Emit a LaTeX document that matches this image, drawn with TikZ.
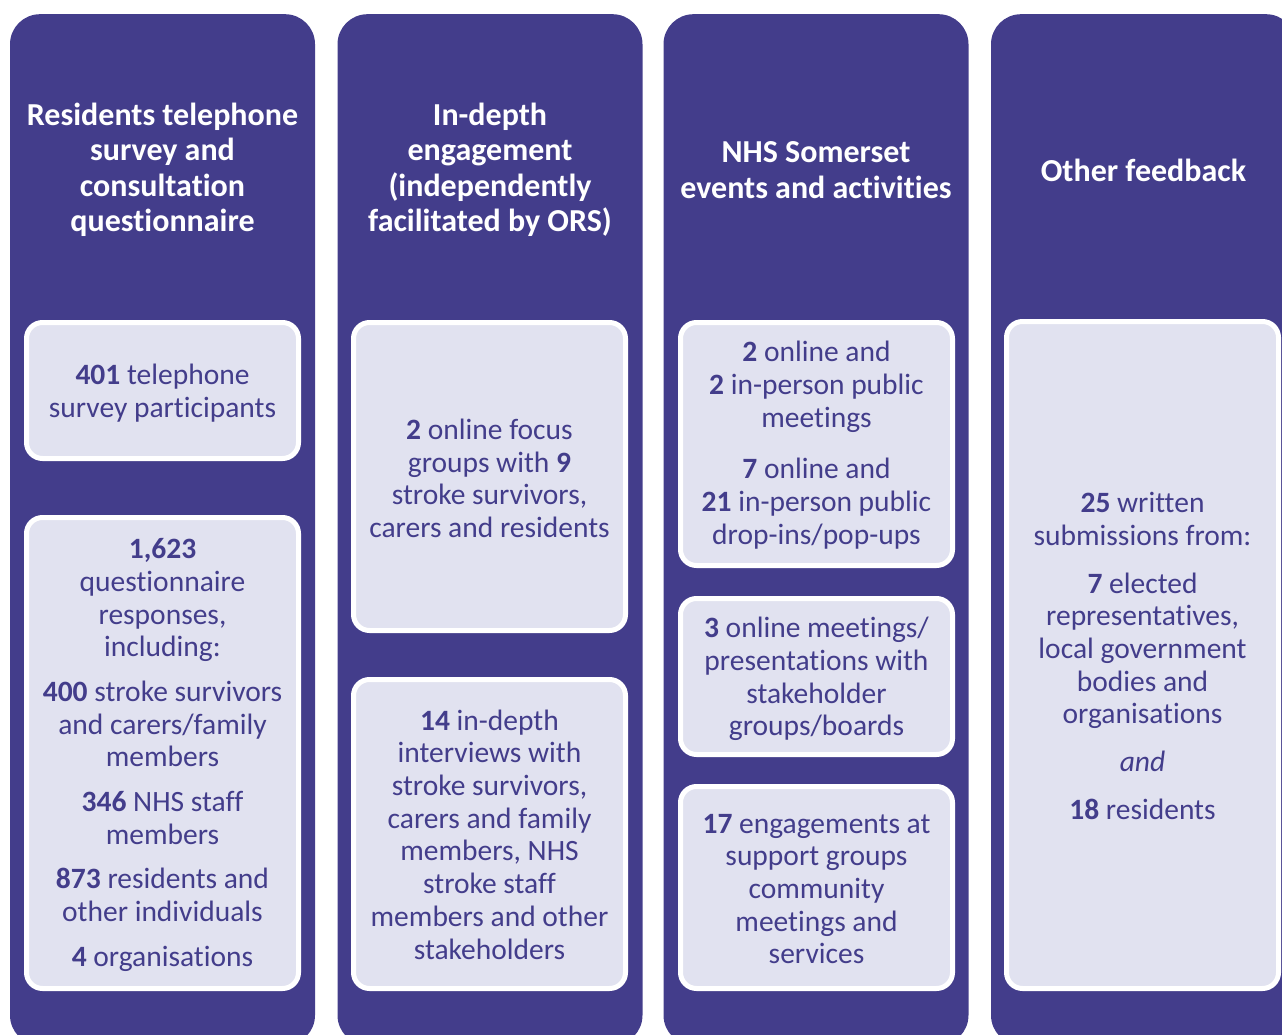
\documentclass[tikz,border=0pt]{standalone}
\usepackage{fontspec}
\setmainfont{Carlito}[Ligatures={NoCommon}]
\definecolor{pp}{HTML}{433D8B}
\definecolor{lav}{HTML}{E1E2F0}
\begin{document}
\begin{tikzpicture}[x=1pt,y=-1pt,
 col/.style={fill=pp, draw=none, rounded corners=30pt, minimum width=305pt, minimum height=1031pt, anchor=north, inner sep=0pt},
 hdr/.style={text=white, font=\fontsize{32}{35.5}\selectfont\bfseries, align=center, inner sep=0pt},
 box/.style={fill=lav, draw=white, line width=5pt, rounded corners=16pt, inner sep=0pt, minimum width=272pt},
 btxt/.style={text=pp, font=\fontsize{29.5}{32.7}\selectfont, align=center, inner sep=0pt},
]
\useasboundingbox (0,0) rectangle (1282,1035);
% columns
\node[col] (col1) at (162.5,14) {};
\node[col] (col2) at (490,14) {};
\node[col] (col3) at (816,14) {};
\node[col] (col4) at (1143.5,14) {};
% headers
\node[hdr] (h1) at (162.5,170) {Residents telephone\\survey and\\consultation\\questionnaire};
\node[hdr] (h2) at (490,170) {In-depth\\engagement\\(independently\\facilitated by ORS)};
\node[hdr] (h3) at (816,170) {NHS Somerset\\events and activities};
\node[hdr] (h4) at (1143.5,170) {Other feedback};
% boxes
\node[box, minimum height=136pt] (c1a) at (162.5,390.5) {};
\node[box, minimum height=471pt] (c1b) at (162.5,753) {};
\node[box, minimum height=308pt] (c2a) at (489.5,476.5) {};
\node[box, minimum height=309pt] (c2b) at (489.5,834) {};
\node[box, minimum height=243pt] (c3a) at (816.5,444) {};
\node[box, minimum height=156pt] (c3b) at (816.5,676.5) {};
\node[box, minimum height=202pt] (c3c) at (816.5,887.5) {};
\node[box, minimum height=667pt] (c4) at (1142.5,655) {};
% box texts
\node[btxt] (t1a) at ([yshift=-2.5pt]c1a.center) {\textbf{401} telephone\\survey participants};
\node[btxt] (t1b) at ([yshift=-2pt]c1b.center) {\textbf{1,623}\\questionnaire\\responses,\\including:\\[12pt]\textbf{400} stroke survivors\\and carers/family\\members\\[12pt]\textbf{346} NHS staff\\members\\[12pt]\textbf{873} residents and\\other individuals\\[12pt]\textbf{4} organisations};
\node[btxt] (t2a) at ([yshift=-2pt]c2a.center) {\textbf{2} online focus\\groups with \textbf{9}\\stroke survivors,\\carers and residents};
\node[btxt] (t2b) at ([yshift=-0.5pt]c2b.center) {\textbf{14} in-depth\\interviews with\\stroke survivors,\\carers and family\\members, NHS\\stroke staff\\members and other\\stakeholders};
\node[btxt] (t3a) at ([yshift=-1pt]c3a.center) {\textbf{2} online and\\\textbf{2} in-person public\\meetings\\[19pt]\textbf{7} online and\\\textbf{21} in-person public\\drop-ins/pop-ups};
\node[btxt] (t3b) at ([yshift=-2.5pt]c3b.center) {\textbf{3} online meetings/\\presentations with\\stakeholder\\groups/boards};
\node[btxt] (t3c) at ([yshift=-1.5pt]c3c.center) {\textbf{17} engagements at\\support groups\\community\\meetings and\\services};
\node[btxt] (t4) at ([yshift=-1pt]c4.center) {\textbf{25} written\\submissions from:\\[15pt]\textbf{7} elected\\representatives,\\local government\\bodies and\\organisations\\[15pt]\textit{and}\\[15pt]\textbf{18} residents};
\end{tikzpicture}
\end{document}
